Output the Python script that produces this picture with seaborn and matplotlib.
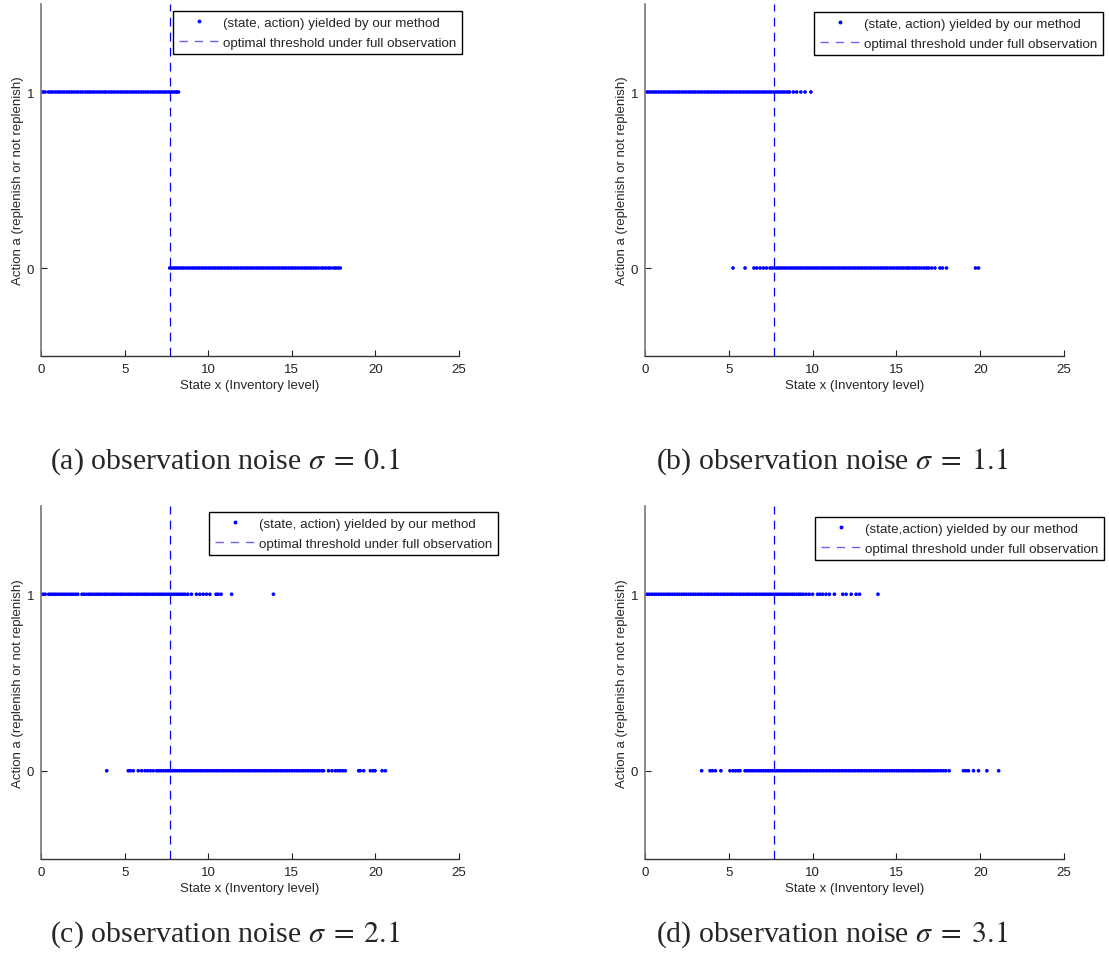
import numpy as np
import pandas as pd
import seaborn as sns
import matplotlib.pyplot as plt
from matplotlib.lines import Line2D

# optimal threshold under full observation
threshold = 7.7

noise_levels = ['0.1', '1.1', '2.1', '3.1']
panel_tags = ['(a)', '(b)', '(c)', '(d)']
point_labels = ['(state, action) yielded by our method',
                '(state, action) yielded by our method',
                '(state, action) yielded by our method',
                '(state,action) yielded by our method']
line_label = 'optimal threshold under full observation'

# states where the learned policy replenished (action 1) / did not (action 0)
a_ones = [0.0, 0.12, 0.25, 0.45, 0.58, 0.7, 0.86, 1.0, 1.13, 1.27, 1.4, 1.55, 1.68, 1.82,
          1.95, 2.1, 2.22, 2.37, 2.5, 2.66, 2.8, 2.93, 3.07, 3.2, 3.36, 3.5, 3.63, 3.78,
          3.9, 4.05, 4.2, 4.33, 4.46, 4.6, 4.75, 4.88, 5.02, 5.16, 5.3, 5.44, 5.58, 5.71,
          5.85, 6.0, 6.13, 6.27, 6.4, 6.55, 6.68, 6.82, 6.96, 7.1, 7.23, 7.37, 7.5, 7.64,
          7.78, 7.9, 8.02, 8.12, 8.22]
a_zeros = [7.7, 7.83, 7.97, 8.1, 8.24, 8.38, 8.51, 8.65, 8.8, 8.93, 9.06, 9.2, 9.34, 9.47,
           9.61, 9.75, 9.88, 10.02, 10.16, 10.3, 10.43, 10.57, 10.7, 10.84, 10.98, 11.12,
           11.25, 11.39, 11.53, 11.66, 11.8, 11.94, 12.07, 12.21, 12.35, 12.48, 12.62,
           12.76, 12.9, 13.03, 13.17, 13.3, 13.44, 13.58, 13.72, 13.85, 13.99, 14.13, 14.26,
           14.4, 14.54, 14.67, 14.81, 14.95, 15.08, 15.22, 15.36, 15.5, 15.63, 15.77, 15.9,
           16.04, 16.18, 16.32, 16.45, 16.6, 16.78, 16.9, 17.05, 17.2, 17.32, 17.5, 17.62,
           17.76, 17.9]

b_ones = [0.0, 0.14, 0.27, 0.41, 0.55, 0.68, 0.82, 0.96, 1.1, 1.23, 1.37, 1.5, 1.64, 1.78,
          1.92, 2.05, 2.19, 2.33, 2.46, 2.6, 2.74, 2.88, 3.01, 3.15, 3.29, 3.42, 3.56, 3.7,
          3.83, 3.97, 4.11, 4.25, 4.38, 4.52, 4.66, 4.79, 4.93, 5.07, 5.2, 5.34, 5.48, 5.62,
          5.75, 5.89, 6.03, 6.16, 6.3, 6.44, 6.58, 6.71, 6.85, 6.99, 7.12, 7.26, 7.4, 7.53,
          7.67, 7.81, 7.95, 8.08, 8.22, 8.36, 8.5, 8.62, 8.85, 9.05, 9.3, 9.55, 9.9]
b_zeros = [5.25, 5.97, 6.5, 6.67, 6.87, 7.07, 7.25, 7.46, 7.6, 7.74, 7.88, 8.01, 8.15, 8.29,
           8.42, 8.56, 8.7, 8.84, 8.97, 9.11, 9.25, 9.38, 9.52, 9.66, 9.8, 9.93, 10.07,
           10.21, 10.34, 10.48, 10.62, 10.76, 10.89, 11.03, 11.17, 11.3, 11.44, 11.58,
           11.72, 11.85, 11.99, 12.13, 12.26, 12.4, 12.54, 12.68, 12.81, 12.95, 13.09,
           13.22, 13.36, 13.5, 13.64, 13.77, 13.91, 14.05, 14.18, 14.32, 14.46, 14.6, 14.73,
           14.87, 15.01, 15.14, 15.28, 15.42, 15.56, 15.69, 15.8, 15.95, 16.08, 16.2,
           16.35, 16.5, 16.66, 16.8, 16.92, 17.1, 17.3, 17.6, 17.75, 17.99, 19.72, 19.9]

c_ones = [0.0, 0.12, 0.25, 0.46, 0.58, 0.71, 0.85, 0.98, 1.12, 1.26, 1.39, 1.53, 1.67,
          1.81, 1.94, 2.08, 2.2, 2.45, 2.58, 2.72, 2.86, 2.99, 3.13, 3.27, 3.4, 3.54, 3.68,
          3.82, 3.95, 4.09, 4.23, 4.36, 4.5, 4.64, 4.78, 4.91, 5.05, 5.19, 5.32, 5.46, 5.6,
          5.74, 5.87, 6.01, 6.15, 6.28, 6.42, 6.56, 6.7, 6.83, 6.97, 7.11, 7.24, 7.38, 7.52,
          7.66, 7.79, 7.93, 8.07, 8.2, 8.34, 8.48, 8.62, 8.78, 9.0, 9.3, 9.5, 9.7, 9.9,
          10.1, 10.47, 10.6, 10.77, 11.4, 13.9]
c_zeros = [3.93, 5.22, 5.35, 5.52, 5.82, 6.02, 6.22, 6.38, 6.55, 6.72, 6.92, 7.05, 7.18,
           7.32, 7.46, 7.6, 7.73, 7.87, 8.01, 8.14, 8.28, 8.42, 8.56, 8.69, 8.83, 8.97, 9.1,
           9.24, 9.38, 9.52, 9.65, 9.79, 9.93, 10.06, 10.2, 10.34, 10.48, 10.61, 10.75,
           10.89, 11.02, 11.16, 11.3, 11.44, 11.57, 11.71, 11.85, 11.98, 12.12, 12.26,
           12.4, 12.53, 12.67, 12.81, 12.94, 13.08, 13.22, 13.36, 13.49, 13.63, 13.77,
           13.9, 14.04, 14.18, 14.32, 14.45, 14.59, 14.73, 14.86, 15.0, 15.14, 15.28,
           15.41, 15.55, 15.69, 15.82, 15.96, 16.1, 16.24, 16.37, 16.51, 16.65, 16.8,
           16.9, 17.2, 17.4, 17.6, 17.75, 17.9, 18.05, 18.2, 19.0, 19.1, 19.3, 19.7,
           19.85, 19.98, 20.4, 20.6]

d_ones = [0.0, 0.14, 0.27, 0.41, 0.55, 0.68, 0.82, 0.96, 1.1, 1.23, 1.37, 1.5, 1.64, 1.78,
          1.92, 2.05, 2.19, 2.33, 2.46, 2.6, 2.74, 2.88, 3.01, 3.15, 3.29, 3.42, 3.56, 3.7,
          3.83, 3.97, 4.11, 4.25, 4.38, 4.52, 4.66, 4.79, 4.93, 5.07, 5.2, 5.34, 5.48, 5.62,
          5.75, 5.89, 6.03, 6.16, 6.3, 6.44, 6.58, 6.71, 6.85, 6.99, 7.12, 7.26, 7.4, 7.53,
          7.67, 7.81, 7.95, 8.08, 8.22, 8.36, 8.5, 8.63, 8.78, 8.9, 9.05, 9.18, 9.3, 9.45,
          9.62, 9.8, 10.0, 10.3, 10.45, 10.6, 10.8, 11.0, 11.3, 11.8, 12.0, 12.3, 12.6,
          12.8, 13.9]
d_zeros = [3.38, 3.88, 4.02, 4.2, 4.53, 5.07, 5.25, 5.4, 5.55, 5.67, 5.97, 6.1, 6.24, 6.38,
           6.51, 6.65, 6.79, 6.93, 7.06, 7.2, 7.34, 7.47, 7.61, 7.75, 7.89, 8.02, 8.16,
           8.3, 8.43, 8.57, 8.71, 8.85, 8.98, 9.12, 9.26, 9.39, 9.53, 9.67, 9.81, 9.94,
           10.08, 10.22, 10.35, 10.49, 10.63, 10.77, 10.9, 11.04, 11.18, 11.31, 11.45,
           11.59, 11.73, 11.86, 12.0, 12.14, 12.27, 12.41, 12.55, 12.69, 12.82, 12.96,
           13.1, 13.23, 13.37, 13.51, 13.65, 13.78, 13.92, 14.06, 14.19, 14.33, 14.47,
           14.61, 14.74, 14.88, 15.02, 15.15, 15.29, 15.43, 15.57, 15.7, 15.84, 15.98,
           16.11, 16.25, 16.39, 16.53, 16.66, 16.8, 16.94, 17.07, 17.21, 17.35, 17.5,
           17.65, 17.8, 17.95, 18.15, 19.0, 19.15, 19.3, 19.6, 19.9, 20.4, 21.1]

ones_by_panel = [a_ones, b_ones, c_ones, d_ones]
zeros_by_panel = [a_zeros, b_zeros, c_zeros, d_zeros]

sns.set_style('ticks')
plt.rcParams['font.family'] = ['Liberation Sans', 'DejaVu Sans']
plt.rcParams['mathtext.fontset'] = 'stix'
plt.rcParams['xtick.direction'] = 'in'
plt.rcParams['ytick.direction'] = 'in'

W, H = 1109, 970
fig = plt.figure(figsize=(W / 100, H / 100), dpi=100)

# axes boxes in pixels: left, top, right, bottom
boxes = [(41, 5, 459, 357), (645, 5, 1064, 357),
         (41, 507, 459, 860), (645, 507, 1064, 860)]
legend_anchor = [(1.007, 0.980), (1.093, 0.977), (1.093, 0.983), (1.095, 0.969)]
caption_pos = [(225, 462), (832, 462), (225, 935), (832, 935)]

for i in range(4):
    l, t, r, b = boxes[i]
    ax = fig.add_axes([l / W, 1 - b / H, (r - l) / W, (b - t) / H])

    df = pd.DataFrame({
        'state': ones_by_panel[i] + zeros_by_panel[i],
        'action': [1] * len(ones_by_panel[i]) + [0] * len(zeros_by_panel[i]),
    })
    sns.scatterplot(data=df, x='state', y='action', ax=ax, color='blue',
                    s=7, marker='o', edgecolor='none', linewidth=0, legend=False)
    ax.axvline(threshold, color='blue', ls=(0, (7, 5)), lw=0.9)

    ax.set_xlim(0, 25)
    ax.set_ylim(-0.5, 1.5)
    ax.set_xticks([0, 5, 10, 15, 20, 25])
    ax.set_yticks([0, 1])
    ax.tick_params(labelsize=9.5, length=4, width=0.8, colors='#222222', pad=5)
    ax.set_xlabel('State x (Inventory level)', fontsize=9.5, labelpad=3)
    ax.set_ylabel('Action a (replenish or not replenish)', fontsize=9.5, labelpad=2)
    sns.despine(ax=ax)
    ax.spines['left'].set_color('#777777')
    ax.spines['bottom'].set_color('#333333')
    ax.spines['left'].set_linewidth(1.2)
    ax.spines['bottom'].set_linewidth(1.0)

    handles = [
        Line2D([], [], ls='none', marker='o', markersize=2.8, color='blue', markeredgewidth=0),
        Line2D([], [], ls=(0, (6, 5)), lw=1.0, color='#6666ff'),
    ]
    leg = ax.legend(handles, [point_labels[i], line_label], loc='upper right',
                    bbox_to_anchor=legend_anchor[i], borderaxespad=0, fontsize=9.6,
                    frameon=True, fancybox=False, framealpha=1, handlelength=3.0,
                    handletextpad=0.35, borderpad=0.4, labelspacing=0.6)
    leg.get_frame().set_edgecolor('black')
    leg.get_frame().set_linewidth(1.0)

    cx, cy = caption_pos[i]
    fig.text(cx / W, 1 - cy / H,
             f'{panel_tags[i]} observation noise $\\sigma\\;=\\;{noise_levels[i]}$',
             ha='center', va='center', fontsize=21.5,
             family=['Liberation Serif', 'DejaVu Serif'])

plt.savefig('out.png', dpi=100)
